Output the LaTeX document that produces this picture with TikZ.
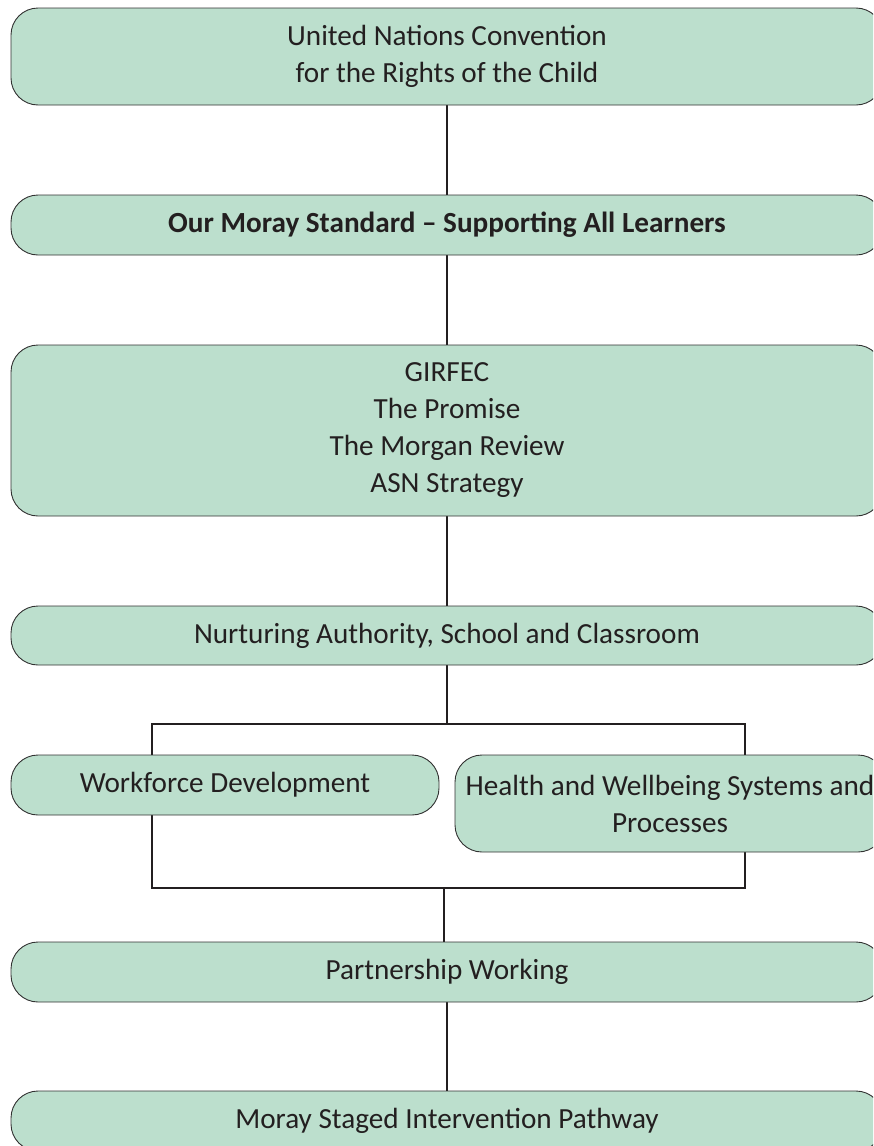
\documentclass[tikz,border=0pt]{standalone}
\usepackage{fontspec}
\setmainfont{Carlito}
\usetikzlibrary{backgrounds}
\definecolor{boxfill}{RGB}{188,223,205}
\definecolor{boxline}{RGB}{50,50,50}
\definecolor{txt}{RGB}{35,31,32}
\begin{document}
\begin{tikzpicture}[x=1pt,y=-1pt,
  stage/.style={draw=boxline, line width=0.9pt, fill=boxfill, rounded corners=27pt,
    inner sep=0pt, align=center, text=txt, font=\fontsize{29.2}{37}\selectfont},
  link/.style={draw=txt, line width=2pt}]
\useasboundingbox (0,0) rectangle (873,1146);
\clip (0,0) rectangle (873,1146);
\node[stage, minimum width=872pt, minimum height=97pt] (b1) at (447,56.5)
  {United Nations Convention\\for the Rights of the Child};
\node[stage, minimum width=872pt, minimum height=60pt] (b2) at (447,225)
  {\bfseries Our Moray Standard -- Supporting All Learners};
\node[stage, minimum width=872pt, minimum height=171pt] (b3) at (447,430.5)
  {GIRFEC\\The Promise\\The Morgan Review\\ASN Strategy};
\node[stage, minimum width=872pt, minimum height=59pt] (b4) at (447,635.5)
  {Nurturing Authority, School and Classroom};
\node[stage, minimum width=428pt, minimum height=60pt] (b5) at (225,785)
  {Workforce Development};
\node[stage, minimum width=430pt, minimum height=97pt] (b6) at (670,803.5)
  {Health and Wellbeing Systems and\\Processes};
\node[stage, minimum width=872pt, minimum height=60pt] (b7) at (447,972)
  {Partnership Working};
\node[stage, minimum width=872pt, minimum height=60pt] (b8) at (447,1121)
  {Moray Staged Intervention Pathway};
\coordinate (jt) at (447,724);
\coordinate (bl) at (152,724);
\coordinate (br) at (745,724);
\coordinate (bbl) at (152,888);
\coordinate (bbr) at (745,888);
\coordinate (jb) at (444,888);
\begin{pgfonlayer}{background}
\draw[link] (b1.south) -- (b2.north);
\draw[link] (b2.south) -- (b3.north);
\draw[link] (b3.south) -- (b4.north);
\draw[link] (b4.south) -- (jt);
\draw[link] (bl) -- (br) -- (bbr) -- (bbl) -- cycle;
\draw[link] (jb) -- (jb |- b7.north);
\draw[link] (b7.south) -- (b8.north);
\end{pgfonlayer}
\end{tikzpicture}
\end{document}
